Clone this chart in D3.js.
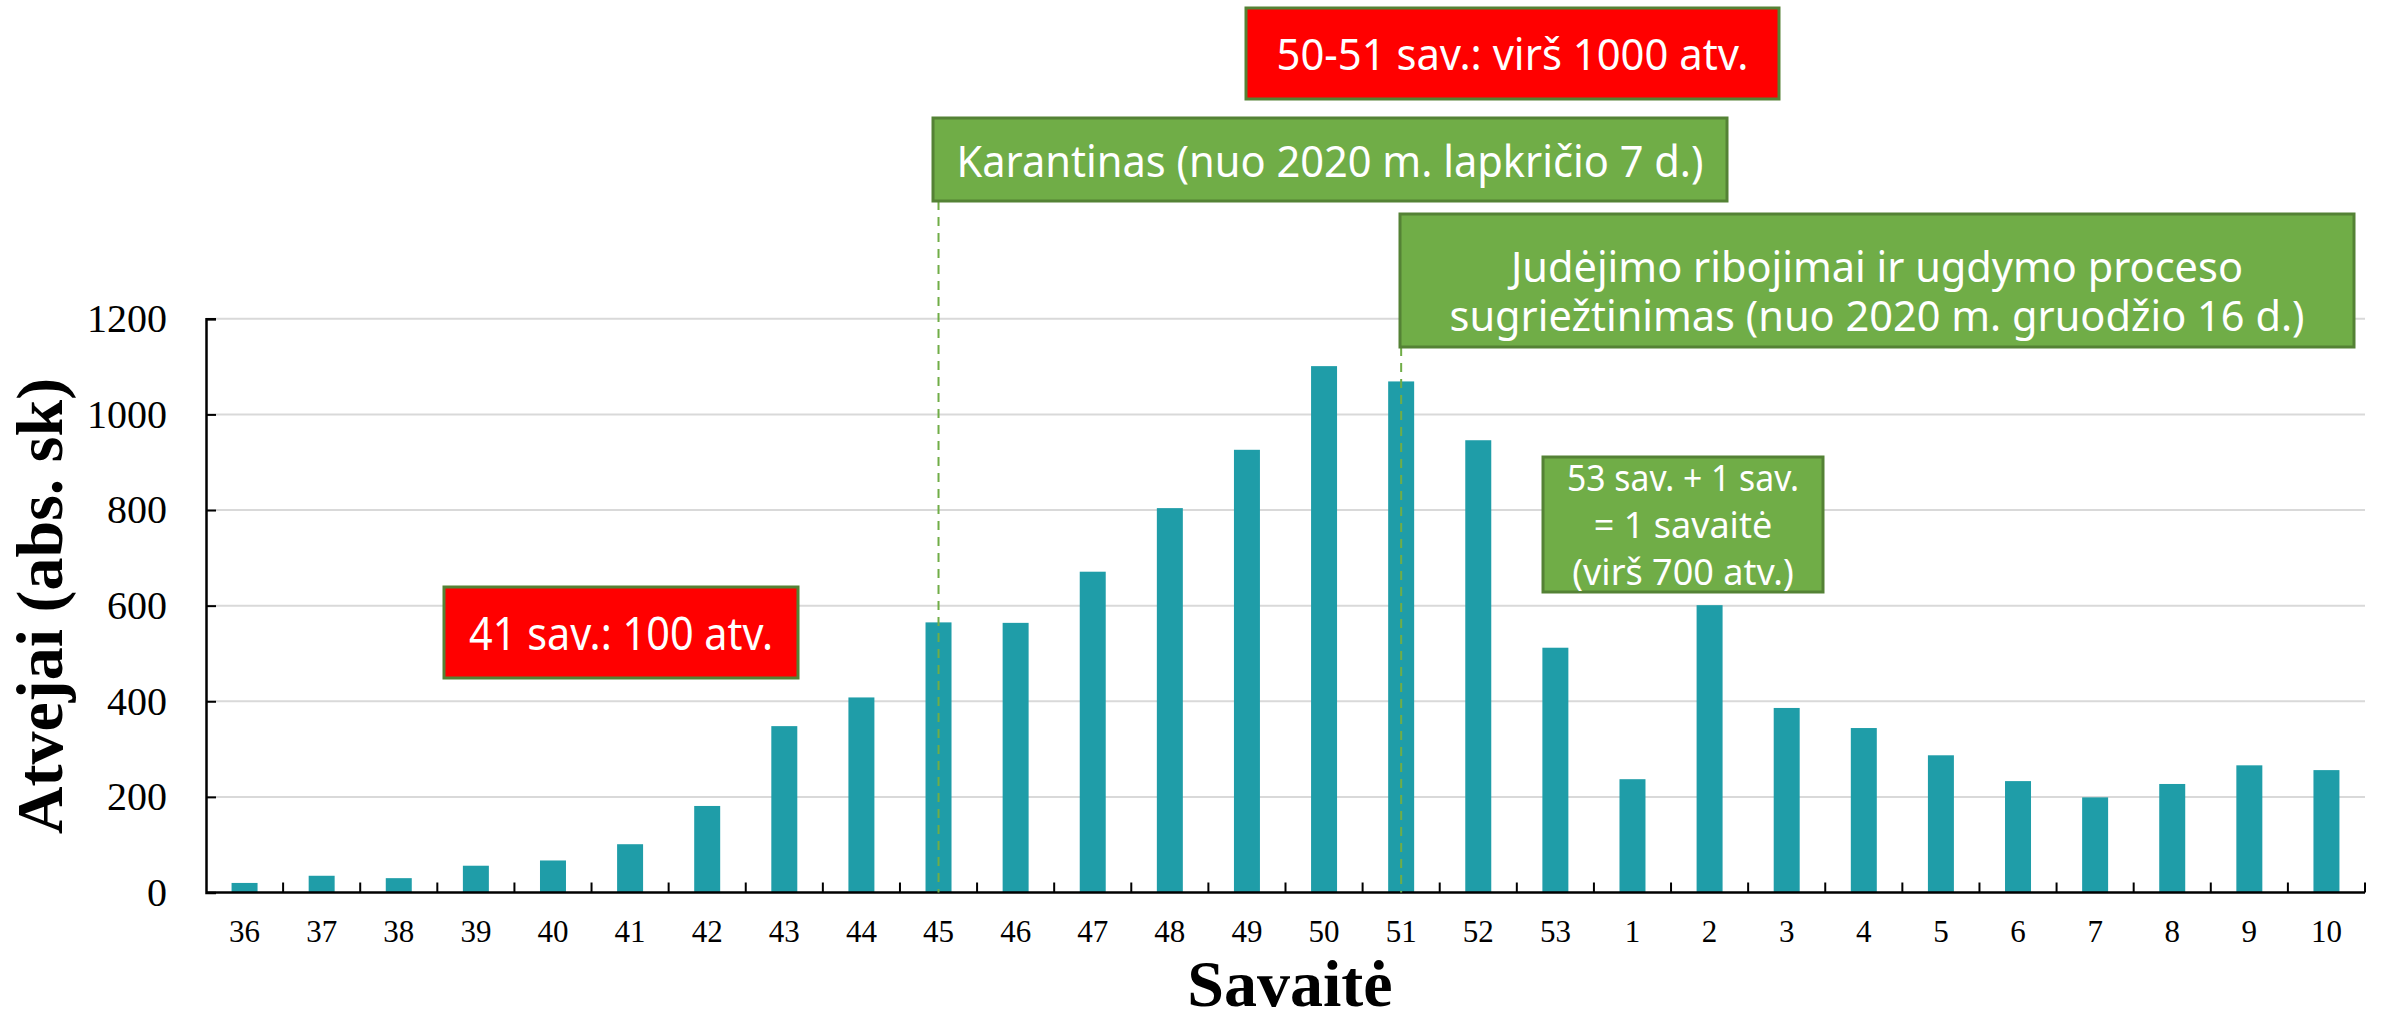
<!DOCTYPE html>
<html>
<head>
<meta charset="utf-8">
<script src="https://cdn.jsdelivr.net/npm/d3@7/dist/d3.min.js"></script>
<style>
  html, body { margin: 0; padding: 0; background: #ffffff; }
  svg { display: block; }
</style>
</head>
<body>
<svg id="chart" width="2397" height="1012"></svg>
<script>
// ---------------- data ----------------
const weeks = ["36","37","38","39","40","41","42","43","44","45","46","47","48","49","50","51","52","53",
               "1","2","3","4","5","6","7","8","9","10"];
const cases = [20, 35, 30, 56, 67, 101, 181, 348, 408, 565, 564, 671, 804, 926, 1101, 1069, 946, 512,
               237, 601, 386, 344, 287, 233, 199, 227, 266, 256];
const yTicks = [0, 200, 400, 600, 800, 1000, 1200];
const yTitle = "Atvejai (abs. sk)";
const xTitle = "Savaitė";
const noteTop = ["50-51 sav.: virš 1000 atv."];
const noteQuarantine = ["Karantinas (nuo 2020 m. lapkričio 7 d.)"];
const noteRestrictions = ["Judėjimo ribojimai ir ugdymo proceso", "sugriežtinimas (nuo 2020 m. gruodžio 16 d.)"];
const noteWeek53 = ["53 sav. + 1 sav.", "= 1 savaitė", "(virš 700 atv.)"];
const note41 = ["41 sav.: 100 atv."];
const quarantineWeek = "45";
const restrictionsWeek = "51";

(function () {
// ---------------- layout ----------------
const svg = d3.select("#chart");
const plotLeft = 206, plotRight = 2365, plotBottom = 892.5, plotTop = 318.8;

const x = d3.scaleBand().domain(weeks).range([plotLeft, plotRight]).paddingInner(0.663).paddingOuter(0.3315);
const y = d3.scaleLinear().domain([0, 1200]).range([plotBottom, plotTop]);

const serif = "'Liberation Serif', 'Times New Roman', serif";
const sans = "'Noto Sans', 'Open Sans', sans-serif";

// gridlines
svg.append("g").selectAll("line").data(yTicks.filter(d => d > 0)).join("line")
  .attr("x1", plotLeft).attr("x2", plotRight)
  .attr("y1", d => y(d)).attr("y2", d => y(d))
  .attr("stroke", "#d9d9d9").attr("stroke-width", 2);

// bars
svg.append("g").selectAll("rect").data(weeks).join("rect")
  .attr("x", (d) => x(d))
  .attr("width", x.bandwidth())
  .attr("y", (d, i) => y(cases[i]))
  .attr("height", (d, i) => plotBottom - y(cases[i]))
  .attr("fill", "#1f9da8");

// y axis
const yAxis = svg.append("g").attr("transform", `translate(${plotLeft},0)`)
  .call(d3.axisLeft(y).tickValues(yTicks).tickSize(-10).tickPadding(39).tickFormat(d3.format("d")));
yAxis.select(".domain").attr("stroke", "#000").attr("stroke-width", 2.5);
yAxis.selectAll(".tick line").attr("stroke", "#000").attr("stroke-width", 2);
yAxis.selectAll(".tick text").attr("font-family", serif).attr("font-size", 40).attr("fill", "#000");

// x axis (labels)
const xAxis = svg.append("g").attr("transform", `translate(0,${plotBottom})`)
  .call(d3.axisBottom(x).tickSize(0).tickPadding(0));
xAxis.select(".domain").remove();
xAxis.selectAll(".tick text")
  .attr("dy", null).attr("y", 49.5)
  .attr("font-family", serif).attr("font-size", 31).attr("fill", "#000");
svg.append("line").attr("x1", plotLeft).attr("x2", plotRight).attr("y1", plotBottom).attr("y2", plotBottom)
  .attr("stroke", "#000").attr("stroke-width", 2.5);
// category boundary ticks (inward)
const step = x.step();
const bounds = weeks.map((d) => x(d) - step * x.paddingInner() / 2 + step);
svg.append("g").selectAll("line").data(bounds).join("line")
  .attr("x1", d => d).attr("x2", d => d)
  .attr("y1", plotBottom).attr("y2", plotBottom - 10)
  .attr("stroke", "#000").attr("stroke-width", 2);

// axis titles
svg.append("text").text(yTitle)
  .attr("transform", `translate(62,606) rotate(-90)`)
  .attr("text-anchor", "middle")
  .attr("font-family", serif).attr("font-weight", "bold").attr("font-size", 66).attr("fill", "#000");
svg.append("text").text(xTitle)
  .attr("x", 1290).attr("y", 1006)
  .attr("text-anchor", "middle")
  .attr("font-family", serif).attr("font-weight", "bold").attr("font-size", 66).attr("fill", "#000");

// dashed reference lines
function dashed(week, yStart) {
  const cx = x(week) + x.bandwidth() / 2;
  svg.append("line").attr("x1", cx).attr("x2", cx).attr("y1", yStart).attr("y2", plotBottom)
    .attr("stroke", "#70ad47").attr("stroke-width", 2).attr("stroke-dasharray", "9,7");
}
dashed(quarantineWeek, 201);
dashed(restrictionsWeek, 347);

// annotation boxes
function note(lines, box, fill, opts) {
  const g = svg.append("g");
  g.append("rect")
    .attr("x", box[0]).attr("y", box[1]).attr("width", box[2] - box[0]).attr("height", box[3] - box[1])
    .attr("fill", fill).attr("stroke", "#548235").attr("stroke-width", 3);
  const cx = (box[0] + box[2]) / 2;
  lines.forEach((t, i) => {
    const el = g.append("text").text(t)
      .attr("x", cx).attr("y", opts.baselines[i])
      .attr("text-anchor", "middle")
      .attr("font-family", sans).attr("font-size", opts.size).attr("fill", "#fff");
    if (opts.widths && opts.widths[i]) {
      el.attr("textLength", opts.widths[i]).attr("lengthAdjust", "spacingAndGlyphs");
    }
  });
}
note(noteTop, [1246, 8, 1779, 99], "#ff0000", { size: 43, baselines: [70], widths: [472] });
note(noteQuarantine, [933, 118, 1727, 201], "#70ad47", { size: 44, baselines: [177], widths: [747] });
note(noteRestrictions, [1400, 214, 2354, 347], "#70ad47", { size: 42, baselines: [282, 331], widths: [732, 855] });
note(noteWeek53, [1543, 457, 1823, 592], "#70ad47", { size: 36, baselines: [491, 538, 585], widths: [232, 0, 0] });
note(note41, [444, 587, 798, 678], "#ff0000", { size: 45, baselines: [650], widths: [304] });
})();
</script>
</body>
</html>
